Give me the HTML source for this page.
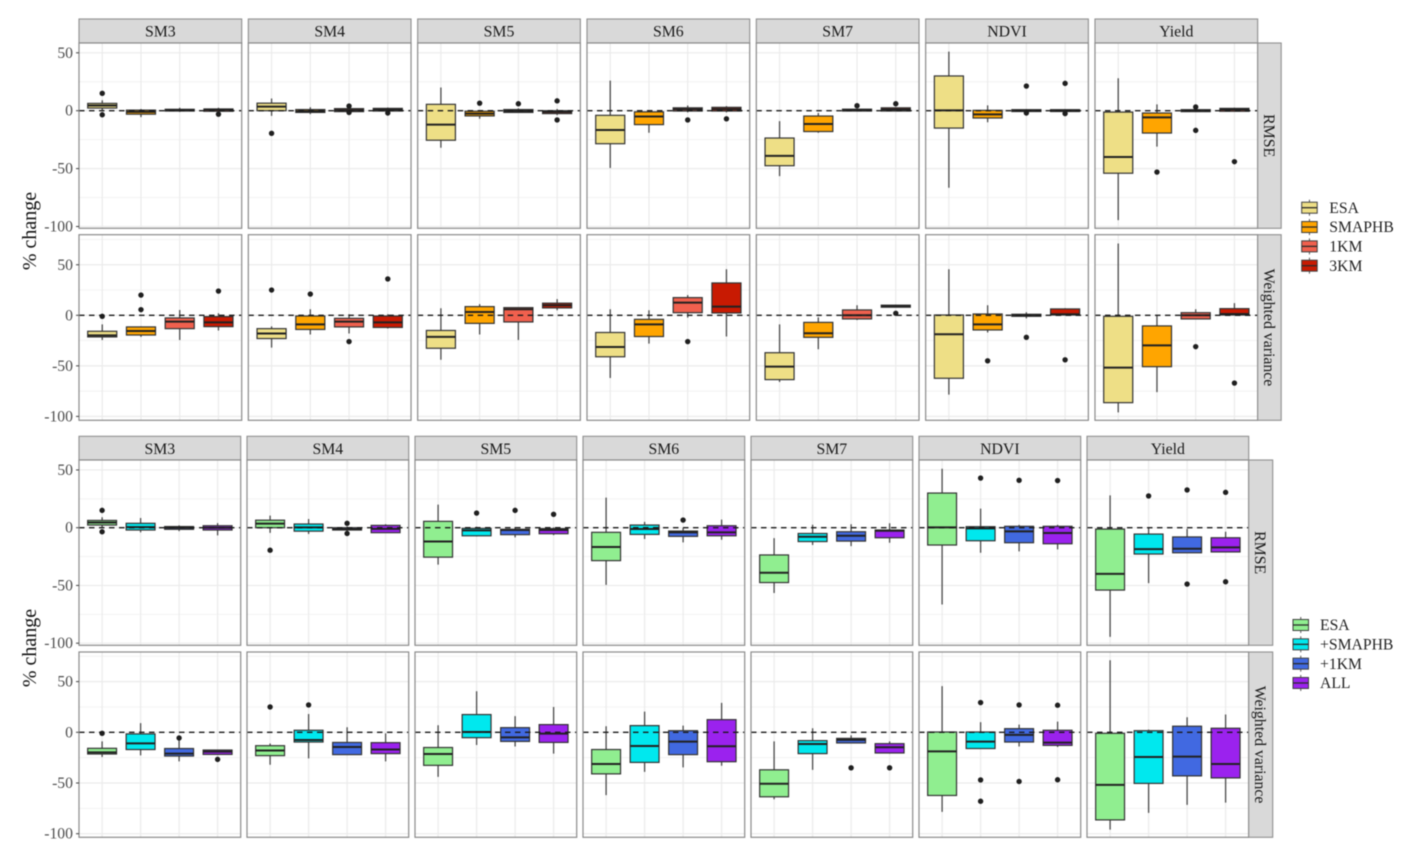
<!DOCTYPE html>
<html lang="en">
<head>
<meta charset="utf-8">
<title>Percent change boxplots</title>
<style>
html,body{margin:0;padding:0;background:#fff;width:1417px;height:858px;overflow:hidden}
svg{display:block;filter:blur(0.5px)}
text{font-family:"Liberation Serif",serif}
</style>
</head>
<body>
<svg id="chart" xmlns="http://www.w3.org/2000/svg" width="1417" height="858" viewBox="0 0 1417 858"></svg>
<script>
// Categories and tick labels
const facets = ["SM3", "SM4", "SM5", "SM6", "SM7", "NDVI", "Yield"];
const metrics = ["RMSE", "Weighted variance"];
const majorTicks = [50, 0, -50, -100];
const minorTicks = [75, 25, -25, -75];
const topLegend = ["ESA", "SMAPHB", "1KM", "3KM"];
const bottomLegend = ["ESA", "+SMAPHB", "+1KM", "ALL"];

// Series values: one row per facet: [whisker low, q1, median, q3, whisker high, [outliers]]
const rmseESA = [[0.5,2.3,4.5,6.3,9,[15,-3.5]],[-4.5,0,3.5,6.5,10.5,[-19.5]],[-32,-25.5,-12,5.5,20,[]],[-49.5,-28.5,-16.7,-4,26,[]],[-56.5,-47.5,-39,-23.6,-9,[]],[-66.5,-15,0.3,30,51,[]],[-94.5,-54,-40,-1.2,28,[]]];
const rmseSMAPHB = [[-5.5,-3,-1,0.5,1.5,[]],[-3,-1.5,-0.5,1,3,[]],[-7,-4.5,-2.5,-0.5,0.5,[6.5]],[-19,-12,-5,-1,0,[]],[-19,-18,-11.5,-4.6,-2,[]],[-10,-6.3,-3.2,0.3,4.6,[]],[-31,-19.3,-5.8,-2,5.5,[-53]]];
const rmse1KM = [[-1,-0.3,0.5,1.2,2.5,[]],[-1,-0.8,0.5,1.8,2.5,[4,-1.5]],[-2,-1.5,-0.3,1,2,[6]],[-1.5,-0.3,1.2,2.5,4.5,[-8]],[-0.5,-0.3,0.5,1.3,2,[4.3]],[-1,-0.7,0,0.9,1.5,[21.3,-2]],[-1,-0.8,0,0.9,1.5,[3.2,-17]]];
const rmse3KM = [[-1.5,-0.5,0.8,1.5,2.5,[-3]],[-1.2,-0.3,0.9,2,2.8,[-2]],[-3.8,-2.5,-1,0,1.5,[8.5,-8]],[-1.5,-0.3,1.4,2.9,4,[-7]],[-0.6,-0.3,1,2.5,3,[6]],[-1,-0.7,0,0.9,1.5,[23.6,-2.5]],[-0.8,-0.5,1,2,2.5,[-44]]];
const rmsePlusSMAPHB = [[-4,-2,0.5,3.8,8.4,[]],[-5.5,-3,0.3,3.2,7.5,[]],[-7.5,-7,-2.3,-0.6,0.8,[12.7]],[-9.8,-5.8,-1.1,2.3,5,[]],[-15,-12,-7.8,-5,2.6,[]],[-21.7,-11.3,-0.6,0.9,16.5,[43]],[-48,-22.8,-18.5,-5.5,0,[27.5]]];
const rmsePlus1KM = [[-3,-1.4,0,1,2,[]],[-3,-2,-1.2,0,1,[3.8,-5]],[-8.4,-6,-2,-1.4,0.6,[15]],[-12.7,-7.5,-4,-2.9,-0.2,[6.6]],[-16,-11.6,-7,-3.5,3,[]],[-20.5,-13,-3.2,1.2,2.5,[41]],[-21.7,-21.7,-18.2,-8,-1,[32.7,-48.8]]];
const rmseALL = [[-6.6,-2,0,1.7,4,[]],[-4.6,-4.3,-1,2,3,[]],[-6.4,-5.2,-2,-0.8,0.3,[11.6]],[-10.4,-7,-4,1.7,7,[]],[-13,-8.7,-2.6,-2,3.8,[]],[-18.8,-13.9,-4.6,1.2,2.5,[40.8]],[-21,-21,-17,-8.7,-3.5,[30.6,-46.8]]];
const varESA = [[-24.4,-21.4,-19.8,-15.8,-9,[-1]],[-32,-23,-18,-13.2,-11,[25]],[-44,-32.6,-21.4,-15,7,[]],[-62,-41,-31.3,-17,6,[]],[-66,-63.6,-50.8,-37,-9,[]],[-78.5,-62.3,-18.8,0.3,45.5,[]],[-96,-86.4,-51.8,-1,71,[]]];
const varSMAPHB = [[-21.4,-19.5,-15.5,-11.5,-11,[20,5.6]],[-19,-14,-9,-0.7,6,[21]],[-19,-8,3.3,8.6,11,[]],[-28,-21,-9,-4,5,[]],[-33.6,-21.8,-17.8,-7,-2,[]],[-17,-14.5,-9,1.3,10,[-45]],[-76,-50.8,-29.7,-10.5,0.3,[]]];
const var1KM = [[-24.4,-13.2,-6.3,-2.6,5.3,[]],[-18,-11.5,-6.3,-3,1,[-26]],[-24.4,-6.6,6,7.6,8,[]],[-2.3,2.6,12.5,17.5,20,[-26]],[-4.6,-3.6,0,5.3,10,[]],[-3,-1,0,1,3,[-21.8]],[-3.8,-3.6,0,2.6,6,[-31]]];
const var3KM = [[-15,-11.2,-7,-1.3,2,[24]],[-13,-12,-7,-0.7,1,[36]],[5,7.3,10,12,16,[]],[-21,2.3,8.6,32,45.5,[]],[7.8,8,9,10,10.5,[2]],[0,0.3,1,6.3,7,[-44]],[0,0.3,1.3,6.6,12,[-67]]];
const varPlusSMAPHB = [[-22.7,-17,-10.9,-1.6,9,[]],[-25.7,-9.6,-7.6,2,18,[27]],[-12.5,-5.3,0.3,17.5,40.5,[]],[-39,-29.7,-13.5,6.6,20.4,[]],[-37,-21,-11.5,-8.2,4,[]],[-16,-16,-9.2,0.3,10,[29.3,-47,-68]],[-79.5,-50.4,-24.4,1.6,2.6,[]]];
const varPlus1KM = [[-28.7,-23.4,-21,-16,-7.6,[-5.6]],[-22.3,-22,-14.5,-10,5,[]],[-14,-9,-5,4.6,16,[]],[-34.6,-22,-9.2,1.6,6.6,[]],[-10.5,-10.5,-7.5,-6,-3,[-35]],[-14,-9.6,-2.6,3.6,7.6,[27,-48.5]],[-71.6,-43,-24,6,14.8,[]]];
const varALL = [[-22.5,-21.8,-19,-17.5,-17,[-26.7]],[-28.7,-21,-17,-10.2,-1,[]],[-21,-10,-1.3,7.6,25,[]],[-33,-29,-13.8,12.5,29,[]],[-21,-20.4,-14.8,-11.2,-9,[-35]],[-14.5,-12.9,-10.2,2,10.5,[26.7,-46.8]],[-69.4,-45,-31.3,4,17.5,[]]];

const svg = document.getElementById('chart');
const NS = 'http://www.w3.org/2000/svg';

function make(tag, attrs, parent, text) {
  const node = document.createElementNS(NS, tag);
  for (const key in attrs) node.setAttribute(key, attrs[key]);
  if (text !== undefined) node.textContent = text;
  (parent || svg).appendChild(node);
  return node;
}

// Linear value axis for one panel row
function valueAxis(row) {
  return function (v) { return row.zero - v * row.pxPerUnit; };
}
// Discrete category axis for one panel
function categoryAxis(left, width, count) {
  const unit = width / (count - 1 + 1.2);
  return { pos: function (i) { return left + (0.6 + i) * unit; }, unit: unit };
}

const figures = [
  {
    key: 'top', left: 79, step: 169.33, width: 162.7, stripTop: 19, stripH: 24, stripW: 23.5,
    rows: [
      { top: 43, bottom: 228.3, zero: 110.7, pxPerUnit: 1.158 },
      { top: 234.7, bottom: 420.3, zero: 315.3, pxPerUnit: 1.011 }
    ],
    legend: topLegend, legendKeyX: 1301.7, legendTextX: 1329.3, legendY: 207.7,
    colors: ['#EEDF86', '#FFA500', '#F0604E', '#C81A02'],
    series: [[rmseESA, rmseSMAPHB, rmse1KM, rmse3KM], [varESA, varSMAPHB, var1KM, var3KM]],
    titleY: 231
  },
  {
    key: 'bottom', left: 79, step: 168, width: 161.7, stripTop: 436.3, stripH: 23.7, stripW: 24,
    rows: [
      { top: 460, bottom: 645.3, zero: 527.7, pxPerUnit: 1.155 },
      { top: 652, bottom: 837.3, zero: 732.3, pxPerUnit: 1.014 }
    ],
    legend: bottomLegend, legendKeyX: 1293, legendTextX: 1320, legendY: 625,
    colors: ['#90EE90', '#00E8EE', '#4169E1', '#9B22EE'],
    series: [[rmseESA, rmsePlusSMAPHB, rmsePlus1KM, rmseALL], [varESA, varPlusSMAPHB, varPlus1KM, varALL]],
    titleY: 648
  }
];

function drawBox(parent, stat, cx, halfW, y, fill) {
  const low = stat[0], q1 = stat[1], med = stat[2], q3 = stat[3], high = stat[4], outliers = stat[5];
  const whiskers = make('path', {
    d: 'M' + cx + ' ' + y(high) + 'V' + y(q3) + 'M' + cx + ' ' + y(q1) + 'V' + y(low),
    stroke: '#4a4a4a', 'stroke-width': 1.3, fill: 'none'
  }, parent);
  
  
  const box = make('rect', {
    x: cx - halfW, y: y(q3), width: halfW * 2, height: Math.max(y(q1) - y(q3), 0.5),
    fill: fill, stroke: '#333', 'stroke-width': 1.2
  }, parent);
  
  
  const median = make('line', {
    x1: cx - halfW, x2: cx + halfW, y1: y(med), y2: y(med), stroke: '#222', 'stroke-width': 2
  }, parent);
  
  
  outliers.forEach(function (v) {
    const dot = make('circle', { cx: cx, cy: y(v), r: 2.7, fill: '#1f1f1f' }, parent);
    
    
  });
}

figures.forEach(function (fig) {
  const figGroup = make('g', {});
  
  

  const title = make('text', {
    transform: 'translate(36,' + fig.titleY + ') rotate(-90)', 'text-anchor': 'middle',
    'font-size': 20, fill: '#111'
  }, figGroup, '% change');
  
  

  facets.forEach(function (facet, c) {
    const left = fig.left + c * fig.step;
    const strip = make('rect', {
      x: left, y: fig.stripTop, width: fig.width, height: fig.stripH,
      fill: '#d9d9d9', stroke: '#8f8f8f', 'stroke-width': 1.1
    }, figGroup);
    
    
    const stripLabel = make('text', {
      x: left + fig.width / 2, y: fig.stripTop + 17.5, 'text-anchor': 'middle',
      'font-size': 15.8, fill: '#1a1a1a'
    }, figGroup, facet);
    
    
  });

  fig.rows.forEach(function (row, r) {
    const y = valueAxis(row);
    facets.forEach(function (facet, c) {
      const left = fig.left + c * fig.step;
      const x = categoryAxis(left, fig.width, fig.legend.length);
      const panel = make('g', {}, figGroup);
      
      

      const bg = make('rect', { x: left, y: row.top, width: fig.width, height: row.bottom - row.top, fill: '#fff' }, panel);
      
      

      minorTicks.forEach(function (t) {
        const py = y(t);
        if (py < row.top || py > row.bottom) return;
        const g = make('line', { x1: left, x2: left + fig.width, y1: py, y2: py, stroke: '#f1f1f1', 'stroke-width': 0.9 }, panel);
        
        
      });
      majorTicks.forEach(function (t) {
        const py = y(t);
        const g = make('line', { x1: left, x2: left + fig.width, y1: py, y2: py, stroke: '#ebebeb', 'stroke-width': 1.2 }, panel);
        
        
      });
      fig.legend.forEach(function (name, i) {
        const g = make('line', { x1: x.pos(i), x2: x.pos(i), y1: row.top, y2: row.bottom, stroke: '#ebebeb', 'stroke-width': 1.2 }, panel);
        
        
      });

      fig.series[r].forEach(function (values, i) {
        drawBox(panel, values[c], x.pos(i), x.unit * 0.375, y, fig.colors[i]);
      });

      const zero = make('line', {
        x1: left, x2: left + fig.width, y1: y(0), y2: y(0),
        stroke: '#1a1a1a', 'stroke-width': 1.4, 'stroke-dasharray': '5.5 4.5'
      }, panel);
      
      

      const border = make('rect', {
        x: left, y: row.top, width: fig.width, height: row.bottom - row.top,
        fill: 'none', stroke: '#8a8a8a', 'stroke-width': 1.2
      }, panel);
      
      
    });

    majorTicks.forEach(function (t) {
      const tick = make('line', { x1: fig.left - 3, x2: fig.left, y1: y(t), y2: y(t), stroke: '#444', 'stroke-width': 1 }, figGroup);
      
      
      const label = make('text', {
        x: fig.left - 6, y: y(t) + 5, 'text-anchor': 'end', 'font-size': 15.7, fill: '#4d4d4d'
      }, figGroup, String(t));
      
      
    });

    const stripX = fig.left + 6 * fig.step + fig.width;
    const side = make('rect', {
      x: stripX, y: row.top, width: fig.stripW, height: row.bottom - row.top,
      fill: '#d9d9d9', stroke: '#8f8f8f', 'stroke-width': 1.1
    }, figGroup);
    
    
    const sideLabel = make('text', {
      transform: 'translate(' + (stripX + 6.5) + ',' + ((row.top + row.bottom) / 2) + ') rotate(90)',
      'text-anchor': 'middle', 'font-size': 15.8, fill: '#1a1a1a'
    }, figGroup, metrics[r]);
    
    
  });

  const legend = make('g', {}, figGroup);
  
  
  fig.legend.forEach(function (name, i) {
    const cy = fig.legendY + i * 19.33;
    const cx = fig.legendKeyX + 7.75;
    const entry = make('g', {}, legend);
    
    
    const stem = make('line', { x1: cx, x2: cx, y1: cy - 8, y2: cy + 8, stroke: '#555', 'stroke-width': 1 }, entry);
    
    
    const key = make('rect', {
      x: fig.legendKeyX, y: cy - 5.5, width: 15.5, height: 11,
      fill: fig.colors[i], stroke: '#3f3f3f', 'stroke-width': 1
    }, entry);
    
    
    const mid = make('line', {
      x1: fig.legendKeyX, x2: fig.legendKeyX + 15.5, y1: cy, y2: cy, stroke: '#2b2b2b', 'stroke-width': 1.3
    }, entry);
    
    
    const label = make('text', {
      x: fig.legendTextX, y: cy + 5.2, 'font-size': 15.7, fill: '#222'
    }, entry, name);
    
    
  });
});
</script>
</body>
</html>
